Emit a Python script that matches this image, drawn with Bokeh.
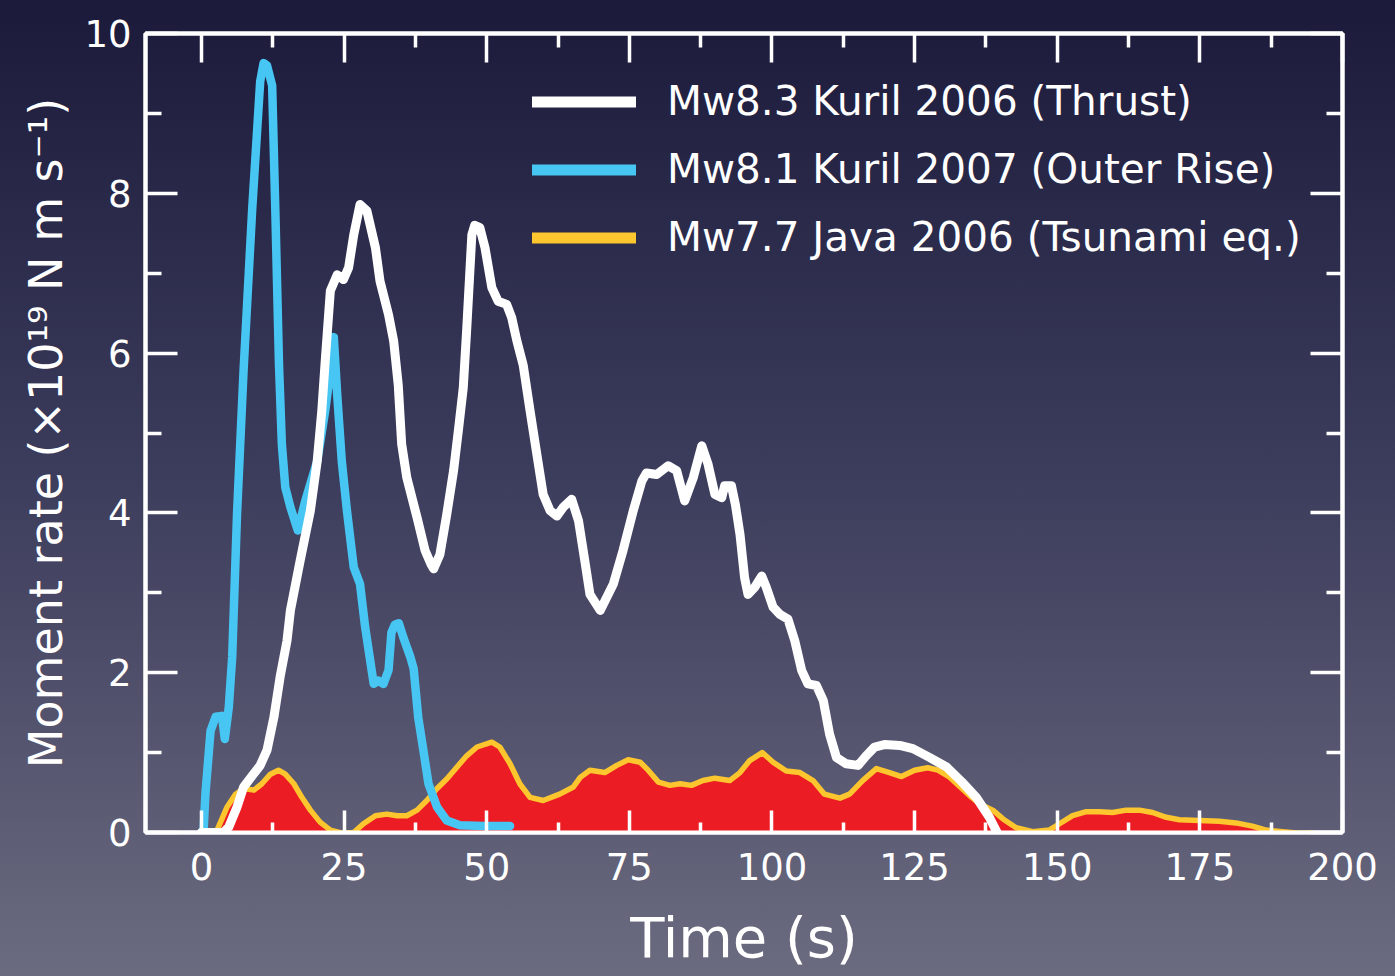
from bokeh.plotting import figure
from bokeh.models import (Range1d, LinearAxis, FixedTicker, Legend,
                          LegendItem, ColumnDataSource)
from bokeh.embed import file_html
from bokeh.resources import INLINE
from bokeh.core.properties import value

# ---------------- data ----------------
kuril06_t = [0.0, 3.9, 4.8, 6.25, 7.4, 8.9, 10.3, 11.5, 12.7, 13.8, 15.0, 15.6, 17.3,
             19.1, 20.3, 21.1, 21.7, 22.6, 23.8, 24.9, 25.8, 26.7, 27.8, 29.0, 30.5,
             31.3, 32.8, 33.7, 34.5, 35.1, 36.0, 37.8, 39.2, 40.3, 40.7, 41.8, 43.0,
             44.2, 45.1, 45.9, 46.5, 47.4, 47.9, 48.8, 49.7, 50.9, 52.0, 53.5, 54.4,
             55.3, 56.4, 57.6, 58.8, 59.9, 61.1, 62.3, 63.4, 64.9, 66.1, 67.2, 68.1,
             69.9, 72.2, 73.9, 75.7, 77.2, 78.0, 79.8, 81.8, 83.3, 84.7, 86.2, 87.7,
             88.8, 90.0, 91.2, 91.7, 92.9, 93.6, 94.4, 95.2, 95.8, 97.0, 98.2, 99.0,
             100.2, 101.4, 102.8, 104.0, 105.2, 106.3, 107.8, 109.0, 110.1, 111.3,
             113.0, 115.1, 116.5, 118.0, 119.7, 122.4, 124.7, 127.6, 130.6, 133.2,
             135.8, 138.1, 139.6]
kuril06_m = [0.0, 0.0, 0.07, 0.32, 0.57, 0.71, 0.84, 1.03, 1.44, 1.95, 2.4, 2.78, 3.4,
             4.03, 4.65, 5.28, 5.9, 6.78, 6.98, 6.92, 7.07, 7.48, 7.86, 7.78, 7.32,
             6.9, 6.48, 6.15, 5.6, 4.86, 4.44, 3.94, 3.53, 3.35, 3.3, 3.48, 3.98,
             4.53, 5.07, 5.57, 6.3, 7.48, 7.6, 7.57, 7.32, 6.82, 6.65, 6.61, 6.44,
             6.15, 5.85, 5.28, 4.73, 4.23, 4.03, 3.96, 4.07, 4.17, 3.9, 3.4, 2.98,
             2.78, 3.11, 3.53, 4.03, 4.4, 4.5, 4.48, 4.59, 4.53, 4.15, 4.44, 4.84,
             4.61, 4.23, 4.19, 4.34, 4.34, 4.1, 3.73, 3.19, 2.98, 3.07, 3.21, 3.07,
             2.82, 2.73, 2.67, 2.4, 2.03, 1.86, 1.84, 1.65, 1.23, 0.94,
             0.86, 0.84, 0.96, 1.07, 1.1, 1.09, 1.05, 0.94, 0.82, 0.64,
             0.44, 0.19, -0.02]

kuril07_t = [0.0, 0.4, 0.7, 1.6, 2.5, 3.6, 4.1, 4.8, 5.4, 6.25, 7.4, 8.9, 10.3, 10.9,
             11.5, 12.4, 12.95, 13.6, 14.1, 14.7, 15.6, 16.9, 18.2, 20.3, 21.7, 22.6,
             23.2, 23.8, 24.6, 25.5, 26.7, 27.8, 28.7, 29.9, 30.2, 31.0, 31.9, 32.8,
             33.3, 33.9, 34.6, 35.4, 36.6, 37.2, 38.0, 38.9, 39.8, 41.3, 43.0, 45.3,
             49.4, 54.1]
kuril07_m = [0.0, 0.05, 0.48, 1.27, 1.45, 1.46, 1.17, 1.57, 2.2, 4.0, 5.8, 7.8, 9.4, 9.63,
             9.6, 9.35, 7.8, 5.85, 4.86, 4.32, 4.07, 3.78, 4.15, 4.65, 5.28, 5.78,
             6.2, 5.48, 4.65, 4.03, 3.32, 3.11, 2.57, 2.0, 1.86, 1.9, 1.86, 2.03,
             2.5, 2.6, 2.62, 2.44, 2.2, 2.05, 1.44, 1.03, 0.61, 0.32, 0.15, 0.09,
             0.08, 0.08]

java06_t = [2.5, 3.0, 4.5, 6.0, 7.4, 9.2, 10.6, 12.1, 13.5, 14.7, 16.2, 17.6, 19.1,
            20.8, 22.6, 24.9, 26.7, 28.4, 30.5, 32.5, 34.3, 36.0, 37.8, 39.5, 41.3,
            43.0, 44.8, 46.5, 48.3, 50.9, 52.3, 54.1, 55.8, 57.6, 59.9, 62.8, 65.2,
            66.4, 68.1, 70.7, 72.8, 74.8, 76.9, 78.3, 80.1, 82.1, 83.9, 85.9, 87.9,
            90.0, 92.6, 94.4, 96.1, 98.3, 100.2, 102.5, 104.9, 107.2, 109.2, 111.9,
            113.6, 115.9, 118.3, 120.6, 122.7, 125.0, 127.3, 129.1, 131.0, 133.0,
            135.0, 136.6, 138.7, 140.5, 142.8, 145.7, 148.6, 150.4, 152.7, 155.1,
            157.4, 159.7, 162.1, 164.4, 166.7, 169.1, 171.4, 174.9, 178.4, 181.3,
            184.2, 186.6, 189.5, 192.4, 194.7]
java06_m = [0.0, 0.07, 0.32, 0.48, 0.55, 0.53, 0.61, 0.73, 0.78, 0.73, 0.61, 0.44, 0.28,
            0.13, 0.03, -0.01, 0.0, 0.11, 0.21, 0.23, 0.21, 0.21, 0.28, 0.40, 0.55,
            0.67, 0.82, 0.96, 1.07, 1.13, 1.07, 0.86, 0.61, 0.44, 0.40, 0.48, 0.57,
            0.69, 0.78, 0.75, 0.84, 0.91, 0.88, 0.78, 0.63, 0.59, 0.61, 0.59, 0.65,
            0.68, 0.65, 0.75, 0.90, 1.0, 0.88, 0.77, 0.75, 0.65, 0.48, 0.43,
            0.48, 0.65, 0.80, 0.75, 0.70, 0.78, 0.81, 0.78, 0.70, 0.57,
            0.44, 0.35, 0.28, 0.17, 0.06, 0.01, 0.03, 0.11, 0.21, 0.26,
            0.26, 0.25, 0.28, 0.28, 0.25, 0.19, 0.16, 0.15, 0.14, 0.12,
            0.08, 0.03, 0.01, -0.01, -0.01]

series_labels = ["Mw8.3 Kuril 2006 (Thrust)",
                 "Mw8.1 Kuril 2007 (Outer Rise)",
                 "Mw7.7 Java 2006 (Tsunami eq.)"]
x_title = "Time (s)"
y_title = "Moment rate (\u00d710\u00b9\u2079 N m s\u207b\u00b9)"
x_ticks = [0, 25, 50, 75, 100, 125, 150, 175, 200]
x_minor = [12.5, 37.5, 62.5, 87.5, 112.5, 137.5, 162.5, 187.5]
y_ticks = [0, 2, 4, 6, 8, 10]
y_minor = [1, 3, 5, 7, 9]

# ---------------- styling ----------------
FONT = "DejaVu Sans"
WHITE = "#ffffff"
BLUE = "#47c6f3"
YELLOW = "#fdc52e"
RED = "#ec1c24"

p = figure(width=1395, height=976, output_backend="svg", toolbar_location=None,
           x_range=Range1d(-9.8, 200), y_range=Range1d(0, 10),
           min_border_left=145, min_border_right=53,
           min_border_top=33, min_border_bottom=144,
           background_fill_color=None, border_fill_color=None,
           outline_line_color=WHITE, outline_line_width=4)
p.xgrid.visible = False
p.ygrid.visible = False


def style_axis(ax, major_in, minor_in):
    ax.axis_line_color = WHITE
    ax.axis_line_width = 4
    ax.major_tick_line_color = WHITE
    ax.minor_tick_line_color = WHITE
    ax.major_tick_line_width = 3.5
    ax.minor_tick_line_width = 3.5
    ax.major_tick_in = major_in
    ax.major_tick_out = 0
    ax.minor_tick_in = minor_in
    ax.minor_tick_out = 0


xax = p.xaxis[0]
xax.ticker = FixedTicker(ticks=x_ticks, minor_ticks=x_minor)
style_axis(xax, 22, 10)
xax.major_label_text_font = FONT
xax.major_label_text_font_size = "37px"
xax.major_label_text_color = WHITE
xax.major_label_standoff = 20
xax.axis_label = x_title
xax.axis_label_text_font = FONT
xax.axis_label_text_font_size = "56px"
xax.axis_label_text_font_style = "normal"
xax.axis_label_text_color = WHITE
xax.axis_label_standoff = 22

yax = p.yaxis[0]
yax.ticker = FixedTicker(ticks=y_ticks, minor_ticks=y_minor)
style_axis(yax, 32, 16)
yax.major_label_text_font = FONT
yax.major_label_text_font_size = "37px"
yax.major_label_text_color = WHITE
yax.major_label_standoff = 14
yax.axis_label = y_title
yax.axis_label_text_font = FONT
yax.axis_label_text_font_size = "46px"
yax.axis_label_text_font_style = "normal"
yax.axis_label_text_color = WHITE
yax.axis_label_standoff = 8

top = LinearAxis(ticker=FixedTicker(ticks=x_ticks, minor_ticks=x_minor),
                 major_label_overrides={t: "" for t in x_ticks},
                 major_label_text_font_size="10px", major_label_standoff=0)
style_axis(top, 29, 14)
p.add_layout(top, "above")

right = LinearAxis(ticker=FixedTicker(ticks=y_ticks, minor_ticks=y_minor),
                   major_label_overrides={t: "" for t in y_ticks},
                   major_label_text_font_size="10px", major_label_standoff=0)
style_axis(right, 32, 16)
p.add_layout(right, "right")

# ---------------- glyphs ----------------
java_src = ColumnDataSource(data=dict(t=java06_t, m=java06_m, z=[0.0] * len(java06_t)))
k06_src = ColumnDataSource(data=dict(t=kuril06_t, m=kuril06_m))
k07_src = ColumnDataSource(data=dict(t=kuril07_t, m=kuril07_m))

p.varea(x="t", y1="z", y2="m", source=java_src, fill_color=RED)
p.line(x="t", y="m", source=java_src, line_color=YELLOW, line_width=5.5,
       line_join="round", line_cap="round")
p.line(x="t", y="m", source=k07_src, line_color=BLUE, line_width=8.5,
       line_join="round", line_cap="round")
p.line(x="t", y="m", source=k06_src, line_color=WHITE, line_width=9,
       line_join="round", line_cap="round")

# legend sample lines (thicker than the curves; a single NaN point draws nothing)
nan = float("nan")
proxy = ColumnDataSource(data=dict(t=[nan], m=[nan]))
leg_w = p.line(x="t", y="m", source=proxy, line_color=WHITE, line_width=11, line_cap="round")
leg_b = p.line(x="t", y="m", source=proxy, line_color=BLUE, line_width=11, line_cap="round")
leg_y = p.line(x="t", y="m", source=proxy, line_color=YELLOW, line_width=11, line_cap="round")

legend = Legend(items=[LegendItem(label=value(series_labels[0]), renderers=[leg_w]),
                       LegendItem(label=value(series_labels[1]), renderers=[leg_b]),
                       LegendItem(label=value(series_labels[2]), renderers=[leg_y])],
                location=(387, 571), padding=0, margin=0, spacing=20,
                glyph_width=104, glyph_height=47, label_height=47,
                label_standoff=31, label_text_font=FONT,
                label_text_font_size="40.5px", label_text_color=WHITE,
                background_fill_alpha=0, border_line_alpha=0)
p.add_layout(legend)

TEMPLATE = """
{% block postamble %}
<style>
html { min-height: 100%;
       background: linear-gradient(180deg, #1b1a3b 0%, #3d3d5d 50%, #6b6b80 100%) fixed; }
body { background: transparent; overflow: hidden; }
</style>
{% endblock %}
"""

html = file_html(p, INLINE, title="Moment rate functions", template=TEMPLATE)
open("out.html", "w").write(html)
